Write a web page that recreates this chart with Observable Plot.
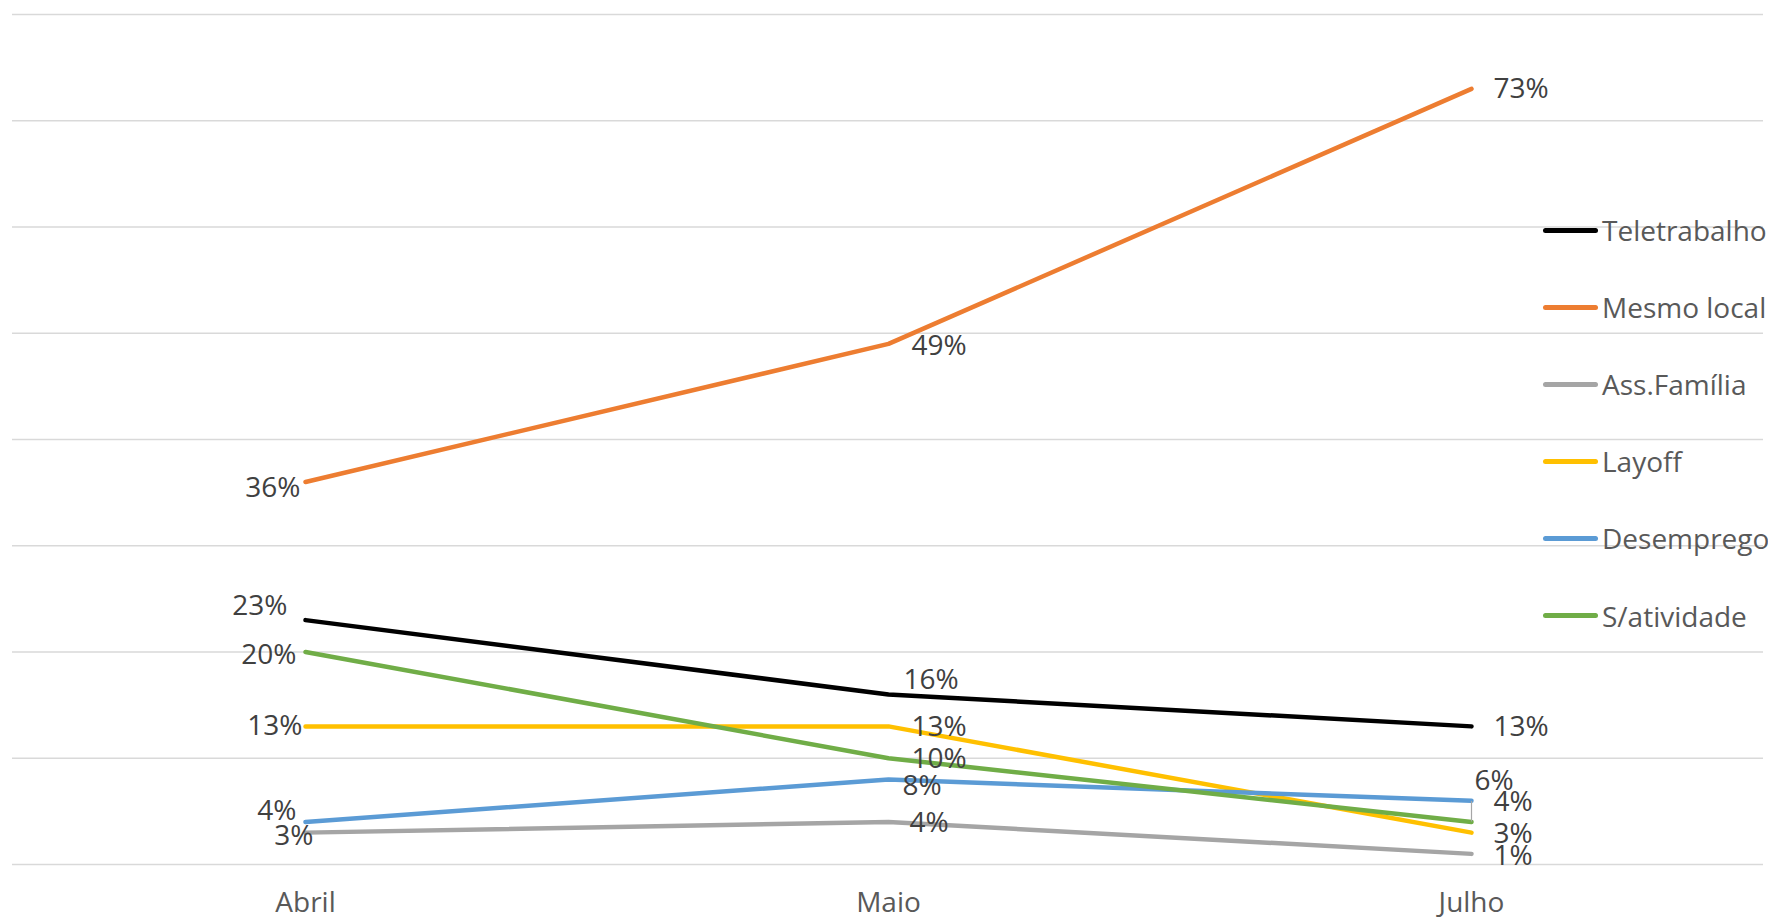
<!DOCTYPE html>
<html>
<head>
<meta charset="utf-8">
<script src="https://cdn.jsdelivr.net/npm/d3@7"></script>
<script src="https://cdn.jsdelivr.net/npm/@observablehq/plot@0.6"></script>
<style>
  html, body { margin: 0; padding: 0; background: #fff; }
  #wrap { position: relative; width: 1768px; height: 919px; font-family: "Open Sans", sans-serif; }
  #legend { position: absolute; left: 1543px; top: 191.5px; }
  .item { display: flex; align-items: center; height: 77.1px; }
  .sw { width: 55px; height: 5px; border-radius: 3px; margin-right: 4px; }
  .lab { font-size: 28px; color: #595959; white-space: nowrap; line-height: 1; }
</style>
</head>
<body>
<div id="wrap"><div id="legend"></div></div>
<script>
const months = ["Abril", "Maio", "Julho"];
const seriesNames = ["Teletrabalho", "Mesmo local", "Ass.Família", "Layoff", "Desemprego", "S/atividade"];
const teletrabalho = [23, 16, 13];
const mesmoLocal = [36, 49, 73];
const assFamilia = [3, 4, 1];
const layoff = [13, 13, 3];
const desemprego = [4, 8, 6];
const semAtividade = [20, 10, 4];
const yTicks = [0, 10, 20, 30, 40, 50, 60, 70, 80];
const colors = ["#000000", "#ED7D31", "#A5A5A5", "#FFC000", "#5B9BD5", "#70AD47"];

const values = [teletrabalho, mesmoLocal, assFamilia, layoff, desemprego, semAtividade];
const rows = seriesNames.flatMap((s, i) => months.map((m, j) => ({series: s, month: m, value: values[i][j]})));

// label placement offsets (pixels) per series, per month
const labelOffsets = {
  "Teletrabalho": [[-18, -14], [15, -14], [22, 1]],
  "Mesmo local": [[-5, 6], [23, 2], [22, 0]],
  "Ass.Família": [[8, 3], [21, 1.5], [22, 2.5]],
  "Layoff": [[-3, 0], [23, 1], [22, 1]],
  "Desemprego": [[-9, -11], [14, 7], [3, -20]],
  "S/atividade": [[-9, 3], [23, 1], [22, -19.5]]
};

const labelMarks = rows.map(r => {
  const j = months.indexOf(r.month);
  const [dx, dy] = labelOffsets[r.series][j];
  return Plot.text([r], {
    x: "month", y: "value", text: d => d.value + "%",
    dx, dy, textAnchor: j === 0 ? "end" : "start",
    fontSize: 28, fill: "#404040"
  });
});

const chart = Plot.plot({
  width: 1768,
  height: 919,
  marginLeft: 12,
  marginRight: 5,
  marginTop: 14,
  marginBottom: 55,
  style: {fontFamily: "Open Sans, sans-serif", background: "transparent"},
  x: {type: "point", domain: months, padding: 0.5},
  y: {domain: [0, 80], axis: null},
  color: {domain: seriesNames, range: colors},
  marks: [
    Plot.ruleY(yTicks, {stroke: "#D9D9D9", strokeWidth: 1.5}),
    Plot.axisX({tickSize: 0, tickPadding: 28, fontSize: 28, fill: "#595959", label: null}),
    Plot.line(rows, {x: "month", y: "value", z: "series", stroke: "series", strokeWidth: 4.5, strokeLinecap: "round", strokeLinejoin: "round"}),
    Plot.ruleX(["Julho"], {y1: 4, y2: 5.93, stroke: "#A6A6A6", strokeWidth: 1.2}),
    Plot.ruleY([5.93], {x1: "Julho", x2: "Julho", insetRight: -13, stroke: "#A6A6A6", strokeWidth: 1.2}),
    ...labelMarks
  ]
});

const wrap = document.getElementById("wrap");
wrap.insertBefore(chart, wrap.firstChild);
chart.style.display = "block";

const legend = document.getElementById("legend");
seriesNames.forEach((s, i) => {
  const it = document.createElement("div");
  it.className = "item";
  it.innerHTML = `<div class="sw" style="background:${colors[i]}"></div><div class="lab">${s}</div>`;
  legend.appendChild(it);
});
</script>
</body>
</html>
